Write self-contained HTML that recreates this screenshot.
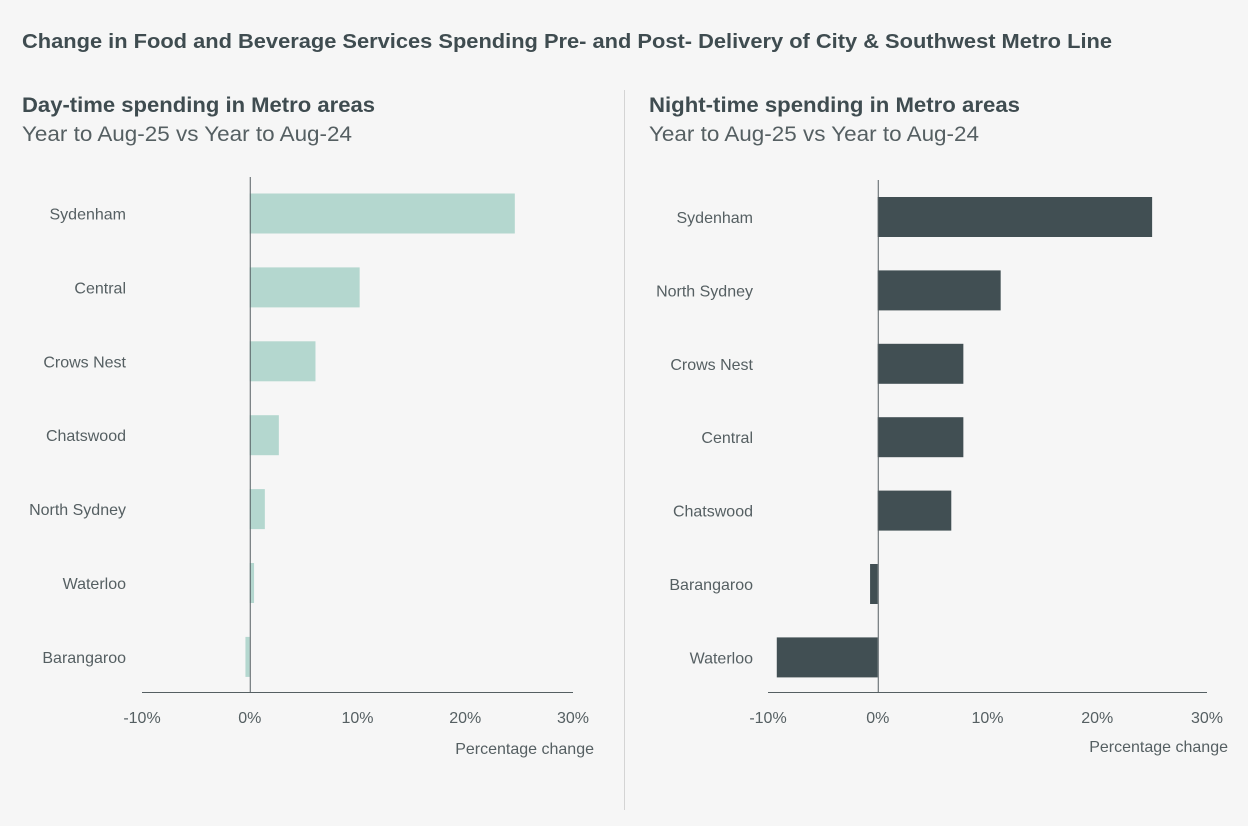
<!DOCTYPE html>
<html><head><meta charset="utf-8"><style>
body{margin:0;background:#f6f6f6;font-family:"Liberation Sans",sans-serif;}
svg{display:block}
</style></head><body>
<svg width="1248" height="826" viewBox="0 0 1248 826">
<rect width="1248" height="826" fill="#f6f6f6"/>
<text x="22" y="48" font-size="20" font-weight="bold" fill="#3f4c50" textLength="1090" lengthAdjust="spacingAndGlyphs">Change in Food and Beverage Services Spending Pre- and Post- Delivery of City &amp; Southwest Metro Line</text>
<text x="22" y="112" font-size="21" font-weight="bold" fill="#3f4c50" textLength="353" lengthAdjust="spacingAndGlyphs">Day-time spending in Metro areas</text>
<text x="22" y="141" font-size="21" fill="#555f62" textLength="330" lengthAdjust="spacingAndGlyphs">Year to Aug-25 vs Year to Aug-24</text>
<text x="649" y="112" font-size="21" font-weight="bold" fill="#3f4c50" textLength="371" lengthAdjust="spacingAndGlyphs">Night-time spending in Metro areas</text>
<text x="649" y="141" font-size="21" fill="#555f62" textLength="330" lengthAdjust="spacingAndGlyphs">Year to Aug-25 vs Year to Aug-24</text>
<line x1="624.5" y1="90" x2="624.5" y2="810" stroke="#d4d4d4"/>
<g id="left"></g>
<g id="right"></g>
</svg>
<script>
const dayCategories=["Sydenham","Central","Crows Nest","Chatswood","North Sydney","Waterloo","Barangaroo"];
const dayValues=[24.6,10.2,6.1,2.7,1.4,0.4,-0.4];
const nightCategories=["Sydenham","North Sydney","Crows Nest","Central","Chatswood","Barangaroo","Waterloo"];
const nightValues=[25.0,11.2,7.8,7.8,6.7,-0.7,-9.2];
const tickValues=[-10,0,10,20,30];
const tickLabels=["-10%","0%","10%","20%","30%"];
const NS="http://www.w3.org/2000/svg";
function mk(parent,tag,attrs){const e=document.createElementNS(NS,tag);for(const k in attrs)e.setAttribute(k,attrs[k]);parent.appendChild(e);return e;}
function draw(g,cats,vals,cfg){
  const x=v=>cfg.x0+(v-(-10))*(cfg.x1-cfg.x0)/40;
  const y=i=>cfg.yTop+i*cfg.step;
  for(let i=0;i<cats.length;i++){
    const v=vals[i];
    const r=mk(g,'rect',{x:Math.min(x(0),x(v)),y:y(i)-20,width:Math.abs(x(v)-x(0)),height:40,fill:cfg.color});
    
    
    const t=mk(g,'text',{x:cfg.labelX,y:y(i)+6,'font-size':16,fill:'#555f62','text-anchor':'end'});
    t.textContent=cats[i];
    
    
  }
  const ax=mk(g,'line',{x1:cfg.x0,x2:cfg.x1,y1:692.5,y2:692.5,stroke:'#555f62'});
  
  
  const z=mk(g,'line',{x1:x(0)+0.5,x2:x(0)+0.5,y1:cfg.zTop,y2:692,stroke:'#555f62'});
  
  
  tickValues.forEach((tv,i)=>{
    const t=mk(g,'text',{x:x(tv),y:723,'font-size':16,fill:'#555f62','text-anchor':'middle'});
    t.textContent=tickLabels[i];
    
    
  });
  const at=mk(g,'text',{x:cfg.titleX,y:cfg.titleY,'font-size':16,fill:'#555f62','text-anchor':'end'});
  at.textContent='Percentage change';
  
  
}
draw(document.getElementById('left'),dayCategories,dayValues,{x0:142,x1:573,yTop:213.5,step:73.9,color:'#b4d7cf',labelX:126,zTop:177,titleX:594,titleY:754});
draw(document.getElementById('right'),nightCategories,nightValues,{x0:768,x1:1207,yTop:217,step:73.4,color:'#414f53',labelX:753,zTop:180,titleX:1228,titleY:752});
</script>
</body></html>
